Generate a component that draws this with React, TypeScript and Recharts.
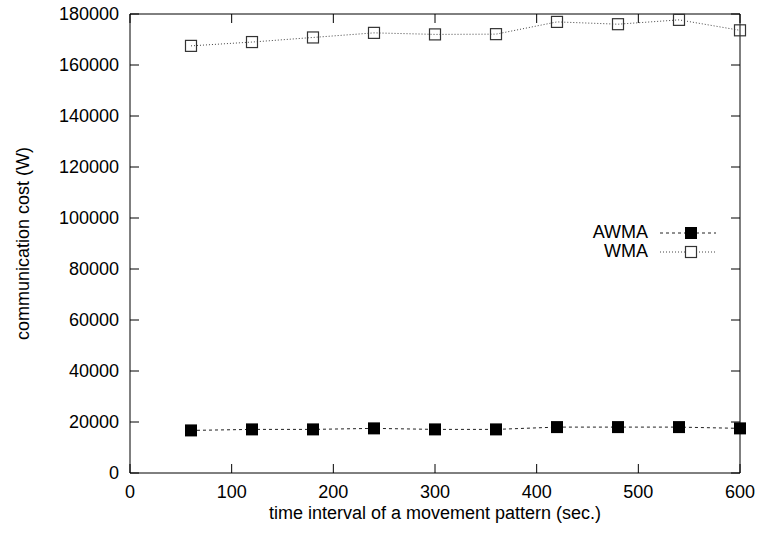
import { LineChart, Line, XAxis, YAxis } from "recharts"

const intervals = [60, 120, 180, 240, 300, 360, 420, 480, 540, 600]
const awma = [16700, 17100, 17100, 17500, 17100, 17100, 18000, 18000, 18000, 17500]
const wma = [167500, 169000, 170800, 172600, 172000, 172100, 176900, 176000, 177700, 173600]

const xTicks = [0, 100, 200, 300, 400, 500, 600]
const yTicks = [0, 20000, 40000, 60000, 80000, 100000, 120000, 140000, 160000, 180000]

const data = intervals.map((t, i) => ({ t, awma: awma[i], wma: wma[i] }))

const FONT = "'Liberation Sans', Arial, sans-serif"
const FONT_SIZE = 18
const TICK_LEN = 9

const FilledSquare = (props: any) => {
  const { cx, cy } = props
  if (cx == null || cy == null) return null
  return <rect x={cx - 6} y={cy - 6} width={12} height={12} fill="#000" />
}

const OpenSquare = (props: any) => {
  const { cx, cy } = props
  if (cx == null || cy == null) return null
  return <rect x={cx - 5.5} y={cy - 5.5} width={11} height={11} fill="none" stroke="#333" strokeWidth={1.2} />
}

const BottomTick = ({ x, y, payload }: any) => (
  <g>
    <line x1={x} x2={x} y1={y} y2={y - TICK_LEN} stroke="#000" />
    <text x={x} y={y + 19} textAnchor="middle" dominantBaseline="central" fontSize={FONT_SIZE} fill="#000" fontFamily={FONT}>
      {payload.value}
    </text>
  </g>
)

const TopTick = ({ x, y }: any) => <line x1={x} x2={x} y1={y} y2={y + TICK_LEN} stroke="#000" />

const LeftTick = ({ x, y, payload }: any) => (
  <g>
    <line x1={x} x2={x + TICK_LEN} y1={y} y2={y} stroke="#000" />
    <text x={x - 11} y={y} textAnchor="end" dominantBaseline="central" fontSize={FONT_SIZE} fill="#000" fontFamily={FONT}>
      {payload.value}
    </text>
  </g>
)

const RightTick = ({ x, y }: any) => <line x1={x} x2={x - TICK_LEN} y1={y} y2={y} stroke="#000" />

const legendItems = [
  { name: "AWMA", dash: "3 3", color: "#222", filled: true },
  { name: "WMA", dash: "1 2", color: "#444", filled: false },
]

// key drawn in the upper-right part of the plot, as gnuplot places it
const KeyBox = () => (
  <div style={{ position: "absolute", left: 548, top: 223, fontFamily: FONT, fontSize: FONT_SIZE, color: "#000" }}>
    {legendItems.map((item) => (
      <div key={item.name} style={{ display: "flex", alignItems: "center", height: 19 }}>
        <span style={{ width: 100, textAlign: "right", lineHeight: "19px" }}>{item.name}</span>
        <svg width={60} height={18} style={{ marginLeft: 12 }}>
          <line x1={0} x2={56} y1={9} y2={9} stroke={item.color} strokeDasharray={item.dash} />
          {item.filled ? (
            <rect x={25} y={3} width={12} height={12} fill="#000" />
          ) : (
            <rect x={25.5} y={3.5} width={11} height={11} fill="#fff" stroke="#333" strokeWidth={1.2} />
          )}
        </svg>
      </div>
    ))}
  </div>
)

export default function App() {
  return (
    <div style={{ position: "absolute", left: 0, top: 0, width: 759, height: 534, background: "#fff" }}>
      <LineChart width={759} height={534} data={data} margin={{ top: 13, right: 18, bottom: 0, left: 0 }}>
        <XAxis
          dataKey="t"
          type="number"
          domain={[0, 600]}
          ticks={xTicks}
          tickSize={0}
          tickMargin={0}
          height={61}
          axisLine={{ stroke: "#000" }}
          tickLine={false}
          tick={<BottomTick />}
          label={{ value: "time interval of a movement pattern (sec.)", position: "insideBottom", offset: 15, fontSize: FONT_SIZE, fill: "#000", fontFamily: FONT }}
        />
        <XAxis
          xAxisId="top"
          orientation="top"
          dataKey="t"
          type="number"
          domain={[0, 600]}
          ticks={xTicks}
          tickSize={0}
          tickMargin={0}
          height={1}
          axisLine={{ stroke: "#000" }}
          tickLine={false}
          tick={<TopTick />}
        />
        <YAxis
          type="number"
          domain={[0, 180000]}
          ticks={yTicks}
          tickSize={0}
          tickMargin={0}
          width={130}
          axisLine={{ stroke: "#000" }}
          tickLine={false}
          tick={<LeftTick />}
          label={{ value: "communication cost (W)", angle: -90, position: "insideLeft", offset: 23, fontSize: FONT_SIZE, fill: "#000", fontFamily: FONT, style: { textAnchor: "middle" } }}
        />
        <YAxis
          yAxisId="right"
          orientation="right"
          type="number"
          domain={[0, 180000]}
          ticks={yTicks}
          tickSize={0}
          tickMargin={0}
          width={1}
          axisLine={{ stroke: "#000" }}
          tickLine={false}
          tick={<RightTick />}
        />
        <Line
          dataKey="awma"
          name="AWMA"
          stroke="#222"
          strokeDasharray="3 3"
          strokeWidth={1}
          dot={<FilledSquare />}
          isAnimationActive={false}
        />
        <Line
          dataKey="wma"
          name="WMA"
          xAxisId="top"
          yAxisId="right"
          stroke="#444"
          strokeDasharray="1 2"
          strokeWidth={1}
          dot={<OpenSquare />}
          isAnimationActive={false}
        />
      </LineChart>
      <KeyBox />
    </div>
  )
}
